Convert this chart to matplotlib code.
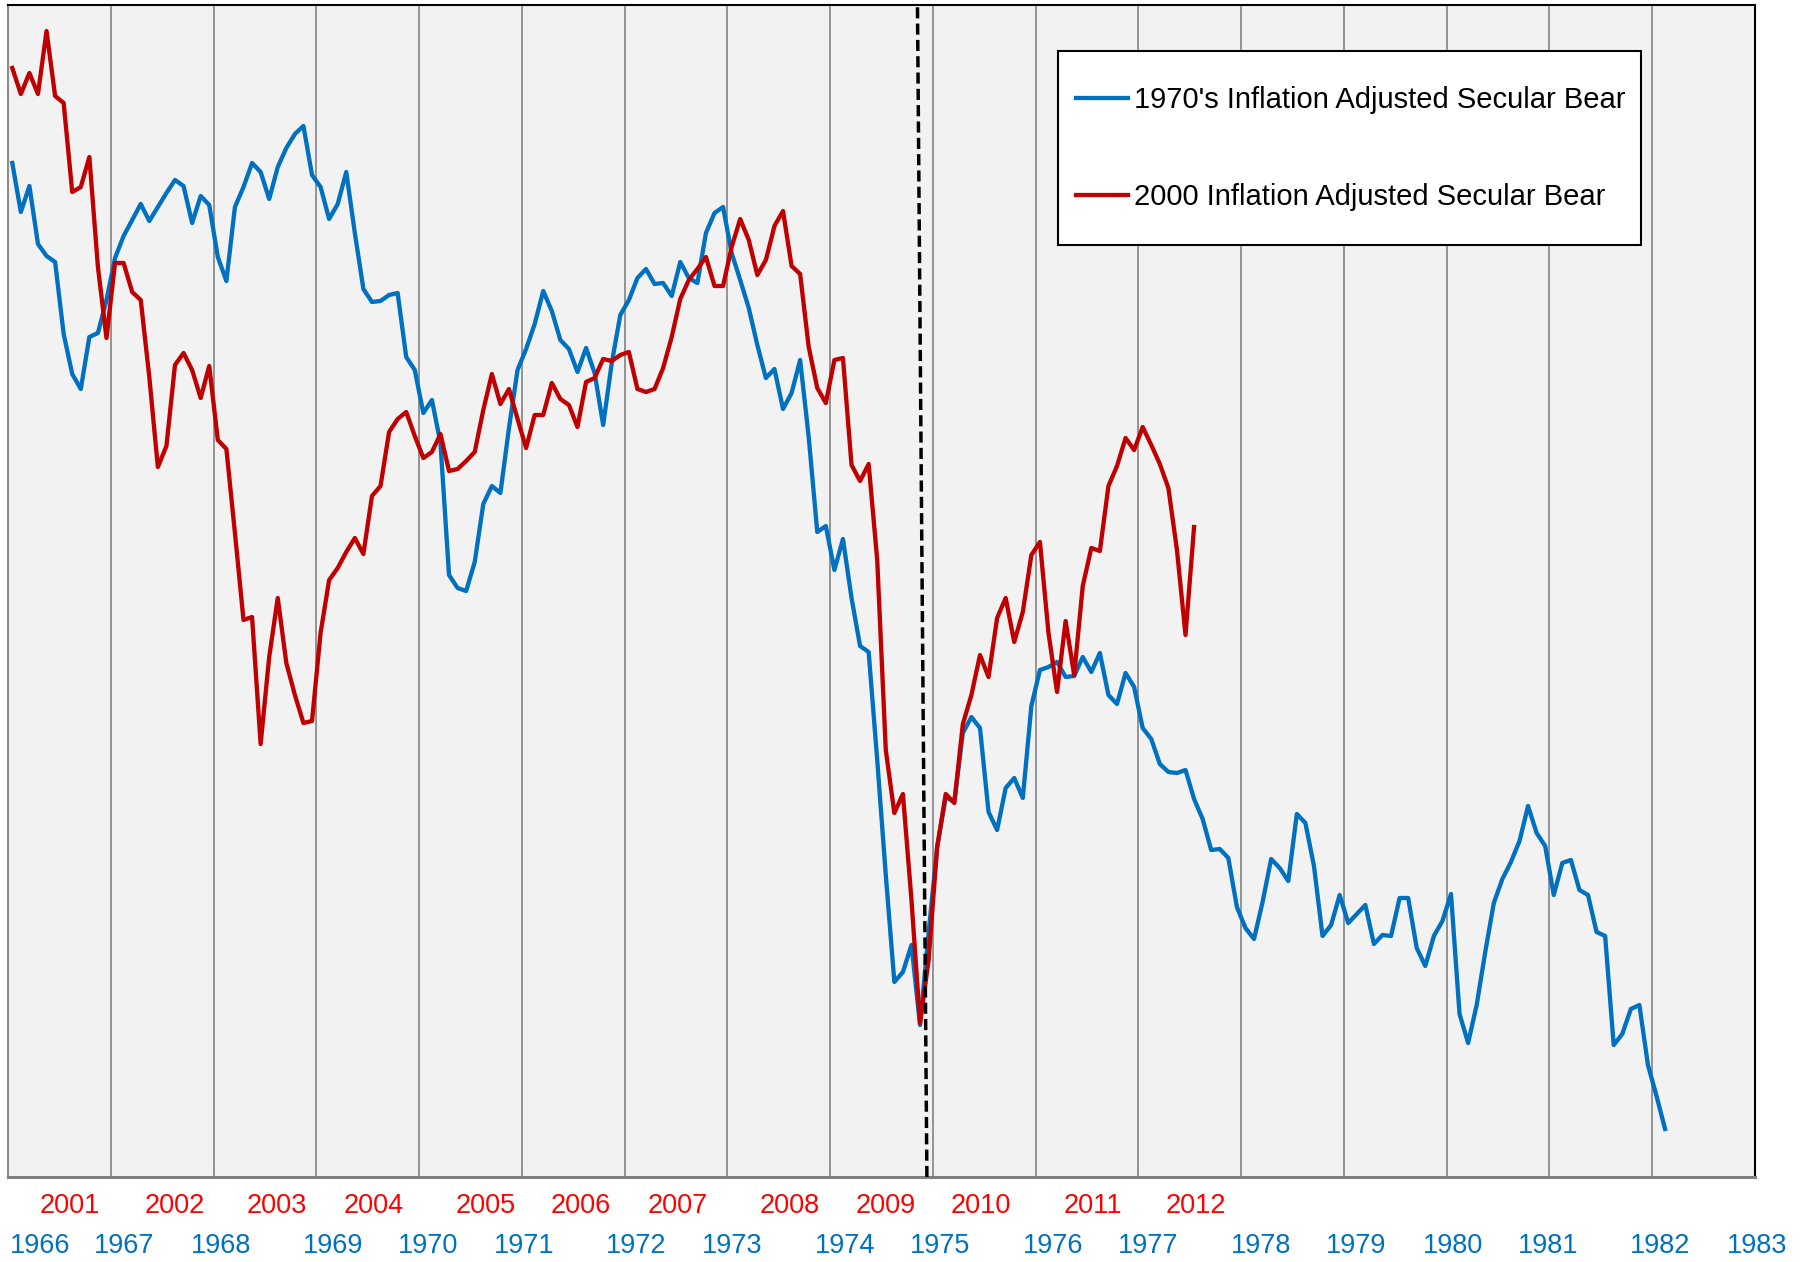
import matplotlib
matplotlib.use("Agg")
import matplotlib.pyplot as plt
import matplotlib.transforms as mtransforms
from matplotlib.patches import Rectangle
import numpy as np

bear_1970s = [
    1014, 965, 991, 933, 921, 915, 843, 803, 788, 840, 844, 877,
    919, 941, 957, 973, 956, 970, 984, 997, 991, 954, 981, 972,
    920, 896, 970, 990, 1014, 1005, 978, 1010, 1029, 1043, 1051, 1002,
    990, 958, 973, 1005, 944, 888, 875, 876, 882, 884, 820, 807,
    764, 777, 734, 602, 589, 586, 615, 673, 691, 684, 749, 807,
    828, 853, 886, 866, 837, 828, 805, 829, 804, 752, 814, 862,
    877, 899, 908, 893, 894, 881, 915, 899, 894, 944, 964, 970,
    924, 897, 869, 832, 799, 808, 768, 784, 817, 740, 645, 651,
    607, 638, 579, 531, 525, 417, 302, 195, 205, 232, 152, 244,
    330, 380, 375, 444, 460, 449, 365, 347, 389, 399, 379, 471,
    507, 510, 515, 500, 501, 520, 505, 524, 482, 473, 504, 490,
    449, 438, 413, 405, 404, 407, 378, 358, 327, 328, 319, 270,
    249, 238, 275, 318, 309, 296, 363, 354, 311, 241, 252, 282,
    254, 263, 272, 233, 242, 241, 279, 279, 229, 211, 241, 256,
    283, 163, 134, 172, 225, 274, 298, 315, 336, 371, 344, 331,
    282, 314, 317, 287, 282, 245, 241, 132, 143, 168, 172, 112,
    81, 48,
]

bear_2000 = [
    1109, 1083, 1104, 1083, 1146, 1081, 1074, 985, 990, 1020, 910, 839,
    914, 914, 885, 877, 800, 710, 731, 812, 824, 807, 779, 811,
    737, 728, 644, 557, 560, 433, 520, 579, 514, 482, 454, 456,
    544, 597, 609, 625, 639, 623, 681, 691, 745, 758, 765, 741,
    719, 725, 743, 706, 708, 716, 725, 767, 803, 773, 788, 758,
    729, 762, 762, 794, 778, 772, 750, 795, 799, 818, 816, 822,
    825, 788, 785, 788, 809, 840, 878, 897, 908, 920, 891, 891,
    930, 958, 937, 902, 917, 951, 966, 911, 903, 830, 789, 774,
    817, 819, 712, 696, 713, 617, 427, 364, 383, 277, 154, 217,
    330, 383, 374, 453, 482, 522, 500, 559, 579, 535, 565, 622,
    635, 544, 485, 556, 502, 591, 629, 626, 691, 711, 739, 727,
    750, 732, 713, 689, 627, 542, 650,
]

years_1970s = ['1966', '1967', '1968', '1969', '1970', '1971', '1972', '1973', '1974',
               '1975', '1976', '1977', '1978', '1979', '1980', '1981', '1982', '1983']
years_2000 = ['2001', '2002', '2003', '2004', '2005', '2006', '2007', '2008', '2009',
              '2010', '2011', '2012']

# where the year captions sit along the month axis
year_pos_1970s = [3.7, 13.6, 24.9, 37.9, 49.1, 60.3, 73.4, 84.6, 97.7,
                  108.8, 122.0, 133.1, 146.3, 157.4, 168.7, 179.8, 192.9, 204.2]
year_pos_2000 = [7.2, 19.5, 31.4, 42.7, 55.8, 66.9, 78.2, 91.3, 102.5,
                 113.6, 126.7, 138.7]

n_months = 204
low_month = 106   # both bears bottom out here

BLUE = '#0070C0'
RED = '#C00000'
FONT = 'Liberation Sans'

W, H = 1806, 1262
fig = plt.figure(figsize=(W / 100, H / 100), dpi=100)
ax = fig.add_axes([8 / W, 85 / H, 1747 / W, 1172 / H])
ax.set_facecolor('#F2F2F2')

x1 = np.arange(len(bear_1970s)) + 0.5
x2 = np.arange(len(bear_2000)) + 0.5
ax.plot(x1, bear_1970s, color=BLUE, lw=3.1, label="1970's Inflation Adjusted Secular Bear")
ax.plot(x2, bear_2000, color=RED, lw=3.1, label="2000 Inflation Adjusted Secular Bear")

ax.set_xlim(0, n_months)
ax.set_ylim(0, 1172)

# yearly gridlines
for m in range(12, n_months, 12):
    ax.axvline(m, color='#8C8C8C', lw=1.3, zorder=0.5)

# dashed marker through the lows
ax.plot([low_month + 1.3, low_month + 0.2], [0, 1],
        transform=mtransforms.blended_transform_factory(ax.transData, ax.transAxes),
        color='black', lw=2.5, ls=(0, (3.2, 1.5)), zorder=3)

ax.set_xticks([])
ax.set_yticks([])
ax.spines['left'].set_color('#8C8C8C')
ax.spines['left'].set_linewidth(1.5)
ax.spines['bottom'].set_color('#7F7F7F')
ax.spines['bottom'].set_linewidth(2.2)
ax.spines['top'].set_color('black')
ax.spines['top'].set_linewidth(1.5)
ax.spines['right'].set_color('black')
ax.spines['right'].set_linewidth(1.5)

trans = mtransforms.blended_transform_factory(ax.transData, fig.transFigure)
for pos, lab in zip(year_pos_2000, years_2000):
    ax.text(pos, 1 - 1206 / H, lab, transform=trans, ha='center', va='center',
            color='#FF0000', fontsize=19.5, family=FONT, clip_on=False)
for pos, lab in zip(year_pos_1970s, years_1970s):
    ax.text(pos, 1 - 1246 / H, lab, transform=trans, ha='center', va='center',
            color=BLUE, fontsize=19.5, family=FONT, clip_on=False)

# legend box drawn separately so its padding can match the original
ax.add_patch(Rectangle((1058 / W, 1 - 245 / H), 583 / W, 194 / H, transform=fig.transFigure,
                       facecolor='white', edgecolor='black', lw=1.5, clip_on=False, zorder=4.9))
leg = ax.legend(loc='upper left', bbox_to_anchor=(1076 / W, 1 - 86 / H),
                bbox_transform=fig.transFigure, prop={'family': FONT, 'size': 21},
                frameon=False, borderpad=0, borderaxespad=0, labelspacing=2.37,
                handlelength=1.78, handletextpad=0.2)
leg.set_zorder(5)

fig.savefig('out.png', dpi=100)
